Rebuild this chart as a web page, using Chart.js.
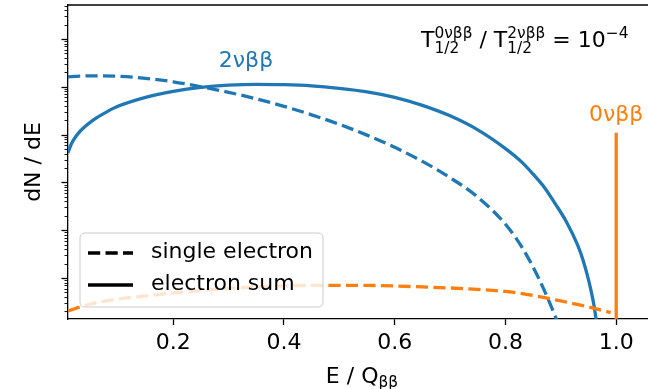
<!DOCTYPE html>
<html><head><meta charset="utf-8">
<script src="https://cdn.jsdelivr.net/npm/chart.js@4/dist/chart.umd.min.js"></script>
<style>html,body{margin:0;padding:0;background:#fff;overflow:hidden}#wrap{width:648px;height:389px;position:relative}</style>
</head><body><div id="wrap"><canvas id="c"></canvas></div>
<script>
// ---- data (E / Q, dN/dE in arbitrary units) ----
const energySum2nu = [0.01,0.015,0.02,0.03,0.04,0.05,0.06,0.08,0.10,0.15,0.20,0.25,0.30,0.35,0.40,0.45,0.50,0.55,0.60,0.65,0.70,0.75,0.80,0.83,0.85,0.87,0.89,0.91,0.93,0.94,0.95,0.96,0.97];
const rateSum2nu   = [415,598,776,1114,1452,1806,2190,2995,3906,6029,8051,9767,10860,11280,11120,10500,9305,7853,6029,4100,2471,1257,509,262,148.5,79.3,35.6,15.0,4.96,2.38,0.908,0.259,0.0395];
const energySingle2nu = [0.01,0.05,0.10,0.15,0.20,0.25,0.30,0.35,0.40,0.45,0.50,0.55,0.60,0.65,0.70,0.75,0.80,0.83,0.86,0.89,0.92];
const rateSingle2nu   = [16196,16997,16596,15066,12727,10000,7670,5607,3905,2592,1640,974,541,275,125.4,49.0,13.3,4.35,0.986,0.156,0.0183];
const energySingle0nu = [0.01,0.05,0.10,0.15,0.20,0.25,0.30,0.35,0.40,0.45,0.50,0.55,0.60,0.65,0.70,0.75,0.80,0.85,0.90,0.95,0.99];
const rateSingle0nu   = [0.204,0.285,0.363,0.420,0.485,0.547,0.603,0.648,0.680,0.697,0.697,0.697,0.680,0.648,0.617,0.574,0.521,0.430,0.330,0.247,0.189];
const energyPeak0nu = [1.0, 1.0];
const ratePeak0nu   = [1088, 0.05];
const xTickValues = [0.2, 0.4, 0.6, 0.8, 1.0];
const yDecades = [-1, 0, 1, 2, 3, 4, 5];
const legendLabels = ['single electron', 'electron sum'];
const ratioText = {num: '0νββ', den: '2νββ', sub: '1/2', value: '10', exp: '−4'};
const label2nu = '2νββ';
const label0nu = '0νββ';

const BLUE = '#1f77b4', ORANGE = '#ff7f0e';
const FONT = '"DejaVu Sans", sans-serif';
const LW = 3.3, DASH = [12.2, 5.3];
const pts = (xs, ys) => xs.map((v, i) => ({x: v, y: ys[i]}));

const decor = {
  id: 'decor',
  afterDatasetsDraw(chart) {
    const {ctx, chartArea: a, scales: {x, y}} = chart;
    ctx.save();
    // top spine
    ctx.strokeStyle = '#000'; ctx.lineWidth = 1.3;
    ctx.beginPath(); ctx.moveTo(a.left, a.top); ctx.lineTo(a.right, a.top); ctx.stroke();
    // log y ticks (major + minor)
    yDecades.forEach(e => {
      for (let k = 1; k <= 9; k++) {
        const v = k * Math.pow(10, e);
        if (v < y.min || v > y.max) continue;
        const py = Math.round(y.getPixelForValue(v)) + 0.5;
        const len = k === 1 ? 6.5 : 3.5;
        ctx.lineWidth = k === 1 ? 1.3 : 0.9;
        ctx.beginPath(); ctx.moveTo(a.left - len, py); ctx.lineTo(a.left, py); ctx.stroke();
      }
    });
    // legend
    const lx = 80, ly = 233, lw = 243, lh = 74, r = 5;
    ctx.beginPath();
    ctx.moveTo(lx + r, ly); ctx.lineTo(lx + lw - r, ly); ctx.quadraticCurveTo(lx + lw, ly, lx + lw, ly + r);
    ctx.lineTo(lx + lw, ly + lh - r); ctx.quadraticCurveTo(lx + lw, ly + lh, lx + lw - r, ly + lh);
    ctx.lineTo(lx + r, ly + lh); ctx.quadraticCurveTo(lx, ly + lh, lx, ly + lh - r);
    ctx.lineTo(lx, ly + r); ctx.quadraticCurveTo(lx, ly, lx + r, ly); ctx.closePath();
    ctx.fillStyle = 'rgba(255,255,255,0.8)'; ctx.fill();
    ctx.strokeStyle = '#cccccc'; ctx.lineWidth = 1; ctx.stroke();
    const rows = [253, 285];
    ctx.strokeStyle = '#000'; ctx.lineWidth = LW;
    ctx.setLineDash(DASH);
    ctx.beginPath(); ctx.moveTo(88, rows[0]); ctx.lineTo(133, rows[0]); ctx.stroke();
    ctx.setLineDash([]);
    ctx.beginPath(); ctx.moveTo(88, rows[1]); ctx.lineTo(133, rows[1]); ctx.stroke();
    ctx.fillStyle = '#000'; ctx.font = '22px ' + FONT; ctx.textBaseline = 'middle'; ctx.textAlign = 'left';
    ctx.fillText(legendLabels[0], 151, rows[0] - 1);
    ctx.fillText(legendLabels[1], 151, rows[1] - 1);
    // curve labels
    ctx.textAlign = 'center';
    ctx.fillStyle = BLUE; ctx.fillText(label2nu, 246, 61);
    ctx.fillStyle = ORANGE; ctx.fillText(label0nu, x.getPixelForValue(1.0), 115);
    // ratio annotation
    ctx.fillStyle = '#000'; ctx.textAlign = 'left'; ctx.textBaseline = 'alphabetic';
    const big = '22px ' + FONT, small = '15.4px ' + FONT;
    let cx = 421; const base = 47, supB = 38, subB = 52.5;
    const half = (top) => {
      ctx.font = big; ctx.fillText('T', cx, base); cx += ctx.measureText('T').width;
      ctx.font = small; ctx.fillText(top, cx, supB); ctx.fillText(ratioText.sub, cx, subB);
      cx += Math.max(ctx.measureText(top).width, ctx.measureText(ratioText.sub).width);
    };
    half(ratioText.num);
    ctx.font = big; ctx.fillText(' / ', cx, base); cx += ctx.measureText(' / ').width;
    half(ratioText.den);
    ctx.font = big; const eq = ' = ' + ratioText.value; ctx.fillText(eq, cx, base); cx += ctx.measureText(eq).width;
    ctx.font = small; ctx.fillText(ratioText.exp, cx, supB);
    // x axis title with subscript
    ctx.font = big; const t1 = 'E / Q'; const w1 = ctx.measureText(t1).width;
    ctx.font = small; const w2 = ctx.measureText('ββ').width;
    let sx = 362 - (w1 + w2) / 2;
    ctx.font = big; ctx.fillText(t1, sx, 383);
    ctx.font = small; ctx.fillText('ββ', sx + w1, 387);
    ctx.restore();
  }
};

new Chart(document.getElementById('c'), {
  type: 'line',
  data: {
    datasets: [
      {label: '0vbb peak', data: pts(energyPeak0nu, ratePeak0nu), borderColor: ORANGE, borderWidth: LW, pointRadius: 0, order: 0},
      {label: '0vbb single', data: pts(energySingle0nu, rateSingle0nu), borderColor: ORANGE, borderWidth: LW, borderDash: DASH, pointRadius: 0, cubicInterpolationMode: 'monotone', order: 1},
      {label: '2vbb sum', data: pts(energySum2nu, rateSum2nu), borderColor: BLUE, borderWidth: LW, pointRadius: 0, cubicInterpolationMode: 'monotone', order: 2},
      {label: '2vbb single', data: pts(energySingle2nu, rateSingle2nu), borderColor: BLUE, borderWidth: LW, borderDash: DASH, pointRadius: 0, cubicInterpolationMode: 'monotone', order: 3}
    ]
  },
  options: {
    responsive: true, maintainAspectRatio: false, animation: false,
    layout: {padding: {top: 5, right: 0, left: 0, bottom: 0}},
    plugins: {legend: {display: false}, tooltip: {enabled: false}},
    scales: {
      x: {
        type: 'linear', min: 0.01, max: 1.0574,
        afterBuildTicks: s => { s.ticks = xTickValues.map(v => ({value: v})); },
        afterFit: s => { s.height = 70; },
        ticks: {color: '#000', font: {family: FONT, size: 22}, padding: 5, maxRotation: 0, callback: v => Number(v).toFixed(1)},
        grid: {display: true, drawOnChartArea: false, drawTicks: true, tickLength: 6, tickWidth: 1.3, tickColor: '#000'},
        border: {display: true, color: '#000', width: 1.3}
      },
      y: {
        type: 'logarithmic', min: Math.pow(10, -0.859), max: Math.pow(10, 5.712),
        afterFit: s => { s.width = 68; },
        ticks: {display: false},
        grid: {display: false},
        border: {display: true, color: '#000', width: 1.3},
        title: {display: true, text: 'dN / dE', color: '#000', font: {family: FONT, size: 22}, padding: {top: 21, bottom: 0}}
      }
    }
  },
  plugins: [decor]
});
</script></body></html>
